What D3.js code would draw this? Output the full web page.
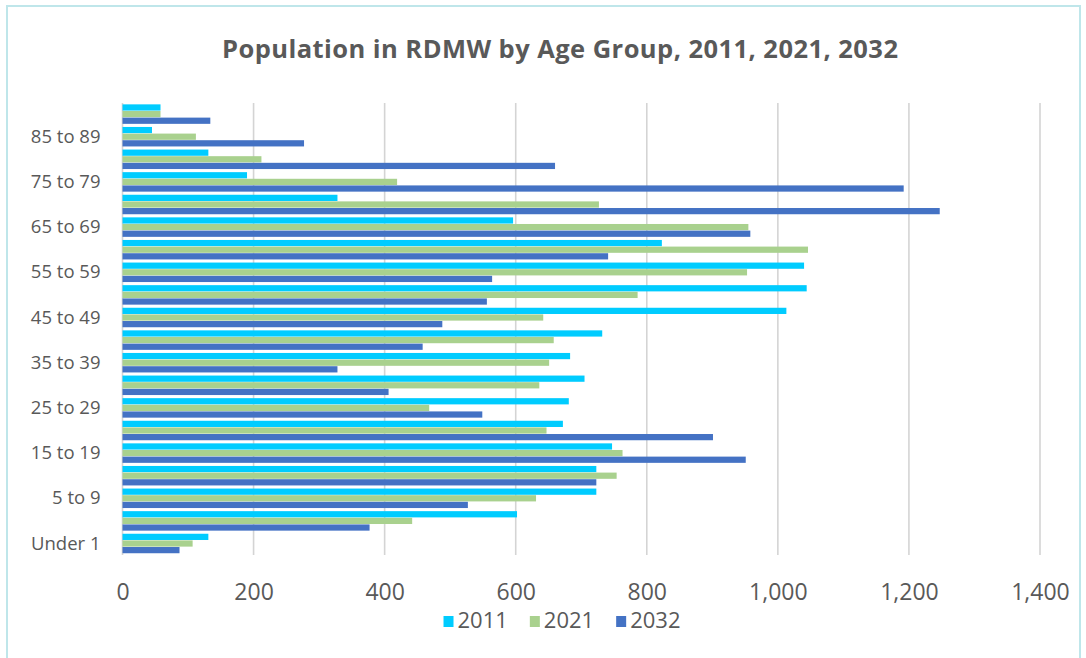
<!DOCTYPE html>
<html>
<head>
<meta charset="utf-8">
<script src="https://cdn.jsdelivr.net/npm/d3@7/dist/d3.min.js"></script>
<style>
  html, body { margin: 0; padding: 0; background: #ffffff; }
  svg { display: block; }
  text { font-family: "Open Sans", "Noto Sans", sans-serif; fill: #595959; }
</style>
</head>
<body>
<svg id="chart" width="1086" height="658"></svg>
<script>
// Age groups, bottom to top
const categories = [
  "Under 1", "1 to 4", "5 to 9", "10 to 14", "15 to 19", "20 to 24",
  "25 to 29", "30 to 34", "35 to 39", "40 to 44", "45 to 49", "50 to 54",
  "55 to 59", "60 to 64", "65 to 69", "70 to 74", "75 to 79", "80 to 84",
  "85 to 89", "90+"
];

const seriesNames = ["2011", "2021", "2032"];

const pop2011 = [131, 602, 723, 723, 747, 672, 681, 705, 683, 732, 1013, 1044,
                 1040, 823, 596, 328, 190, 131, 45, 58];
const pop2021 = [107, 442, 631, 754, 763, 647, 468, 636, 651, 658, 642, 786,
                 953, 1046, 955, 727, 419, 212, 112, 58];
const pop2032 = [87, 377, 527, 723, 951, 901, 549, 406, 328, 458, 488, 556,
                 564, 741, 958, 1247, 1192, 660, 277, 134];

const xTicks = [0, 200, 400, 600, 800, 1000, 1200, 1400];

const seriesColors = ["#00ccff", "#a9d18e", "#4472c4"];

const titleText = "Population in RDMW by Age Group, 2011, 2021, 2032";

// ---- build rows ----
const rows = categories.map((c, i) => ({
  category: c,
  values: [pop2011[i], pop2021[i], pop2032[i]]
}));

const svg = d3.select("#chart");

// chart frame
svg.append("rect")
  .attr("x", 7).attr("y", 6)
  .attr("width", 1073).attr("height", 670)
  .attr("fill", "#ffffff")
  .attr("stroke", "#bfe6ea")
  .attr("stroke-width", 2);

const plot = { left: 122.5, right: 1040, top: 103, bottom: 555 };

const x = d3.scaleLinear().domain([0, 1400]).range([plot.left, plot.right]);

// categories run bottom-to-top
const y = d3.scaleBand()
  .domain(categories)
  .range([plot.bottom, plot.top])
  .paddingInner(0.12)
  .paddingOuter(0.06);

// within a group: 2011 on top, 2032 at the bottom
const ySub = d3.scaleBand()
  .domain(seriesNames)
  .range([0, y.bandwidth()]);

const color = d3.scaleOrdinal().domain(seriesNames).range(seriesColors);

// vertical gridlines
svg.append("g")
  .selectAll("line")
  .data(xTicks)
  .join("line")
  .attr("x1", d => x(d)).attr("x2", d => x(d))
  .attr("y1", plot.top).attr("y2", plot.bottom)
  .attr("stroke", "#d4d4d4")
  .attr("stroke-width", 1.6);

// bars
const groups = svg.append("g")
  .selectAll("g")
  .data(rows)
  .join("g")
  .attr("transform", d => `translate(0,${y(d.category)})`);

groups.selectAll("rect")
  .data(d => d.values.map((v, j) => ({ key: seriesNames[j], value: v })))
  .join("rect")
  .attr("x", x(0))
  .attr("y", d => ySub(d.key))
  .attr("width", d => x(d.value) - x(0))
  .attr("height", ySub.bandwidth() - 0.4)
  .attr("fill", d => color(d.key));

// x axis labels
const xAxis = d3.axisBottom(x)
  .tickValues(xTicks)
  .tickFormat(d3.format(","))
  .tickSize(0)
  .tickPadding(0);

const gx = svg.append("g")
  .attr("transform", `translate(0,${plot.bottom + 45})`)
  .call(xAxis);
gx.select(".domain").remove();
gx.selectAll("text")
  .attr("dy", "0")
  .style("font-size", "23px")
  .style("fill", "#595959");

// y axis labels (every second age group)
const yAxis = d3.axisLeft(y)
  .tickValues(categories.filter((d, i) => i % 2 === 0))
  .tickSize(0)
  .tickPadding(22);

const gy = svg.append("g")
  .attr("transform", `translate(${plot.left},0)`)
  .call(yAxis);
gy.select(".domain").remove();
gy.selectAll("text")
  .style("font-size", "18.5px")
  .style("fill", "#595959");

// title
svg.append("text")
  .attr("x", 560)
  .attr("y", 58)
  .attr("text-anchor", "middle")
  .attr("textLength", 676)
  .attr("lengthAdjust", "spacing")
  .style("font-size", "25.5px")
  .style("font-weight", "bold")
  .style("fill", "#595959")
  .text(titleText);

// legend
const legend = svg.append("g");
let cursor = 0;
seriesNames.forEach((name) => {
  const item = legend.append("g").attr("transform", `translate(${cursor},0)`);
  item.append("rect")
    .attr("x", 0).attr("y", -12)
    .attr("width", 10).attr("height", 11)
    .attr("fill", color(name));
  const t = item.append("text")
    .attr("x", 14).attr("y", 0)
    .style("font-size", "22px")
    .style("fill", "#595959")
    .text(name);
  cursor += 14 + t.node().getComputedTextLength() + 22;
});
const legendWidth = cursor - 22;
legend.attr("transform", `translate(${562 - legendWidth / 2},628)`);
</script>
</body>
</html>
